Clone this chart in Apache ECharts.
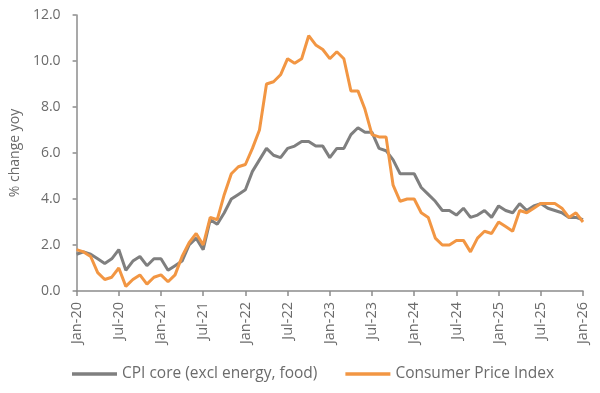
<!DOCTYPE html>
<html>
<head>
<meta charset="utf-8">
<script src="https://cdn.jsdelivr.net/npm/echarts@6/dist/echarts.min.js"></script>
<style>html,body{margin:0;padding:0;background:#fff}#c{width:600px;height:393px}</style>
</head>
<body>
<div id="c"></div>
<script>
const monthNames = ['Jan','Feb','Mar','Apr','May','Jun','Jul','Aug','Sep','Oct','Nov','Dec'];
const startYear = 20, monthCount = 73;
const categories = [];
for (let i = 0; i < monthCount; i++) {
  categories.push(monthNames[i % 12] + '-' + (startYear + Math.floor(i / 12)));
}
const coreName = 'CPI core (excl energy, food)';
const cpiName = 'Consumer Price Index';
const coreValues = [
  1.6,1.7,1.6,1.4,1.2,1.4,1.8,0.9,1.3,1.5,1.1,1.4,
  1.4,0.9,1.1,1.3,2.0,2.3,1.8,3.1,2.9,3.4,4.0,4.2,
  4.4,5.2,5.7,6.2,5.9,5.8,6.2,6.3,6.5,6.5,6.3,6.3,
  5.8,6.2,6.2,6.8,7.1,6.9,6.9,6.2,6.1,5.7,5.1,5.1,
  5.1,4.5,4.2,3.9,3.5,3.5,3.3,3.6,3.2,3.3,3.5,3.2,
  3.7,3.5,3.4,3.8,3.5,3.7,3.8,3.6,3.5,3.4,3.2,3.2,
  3.1
];
const cpiValues = [
  1.8,1.7,1.5,0.8,0.5,0.6,1.0,0.2,0.5,0.7,0.3,0.6,
  0.7,0.4,0.7,1.5,2.1,2.5,2.0,3.2,3.1,4.2,5.1,5.4,
  5.5,6.2,7.0,9.0,9.1,9.4,10.1,9.9,10.1,11.1,10.7,10.5,
  10.1,10.4,10.1,8.7,8.7,7.9,6.8,6.7,6.7,4.6,3.9,4.0,
  4.0,3.4,3.2,2.3,2.0,2.0,2.2,2.2,1.7,2.3,2.6,2.5,
  3.0,2.8,2.6,3.5,3.4,3.6,3.8,3.8,3.8,3.6,3.2,3.4,
  3.0
];
const yMin = 0, yMax = 12, yStep = 2;
const yAxisName = '% change yoy';

const textColor = '#6b6b6b';
const axisColor = '#8c8c8c';
const font = '"Open Sans", Lato, sans-serif';
const chart = echarts.init(document.getElementById('c'), null, {renderer: 'canvas'});
chart.setOption({
  animation: false,
  textStyle: {fontFamily: font},
  grid: {left: 72, right: 17, top: 15, bottom: 102, containLabel: false},
  legend: {
    bottom: 6, left: 67, itemGap: 28, itemWidth: 45, itemHeight: 3.5, icon: 'rect',
    textStyle: {color: textColor, fontSize: 15.5, fontFamily: font},
    data: [coreName, cpiName]
  },
  xAxis: {
    type: 'category', data: categories, boundaryGap: false,
    axisLine: {lineStyle: {color: axisColor, width: 1.5}},
    axisTick: {show: true, interval: 5, length: 5, lineStyle: {color: axisColor, width: 1.5}},
    axisLabel: {interval: 5, rotate: 90, color: textColor, fontSize: 14.5, margin: 11, fontFamily: font},
    splitLine: {show: false}
  },
  yAxis: {
    type: 'value', min: yMin, max: yMax, interval: yStep,
    name: yAxisName, nameLocation: 'middle', nameGap: 51, nameRotate: 90,
    nameTextStyle: {color: textColor, fontSize: 14, fontFamily: font},
    axisLine: {show: true, lineStyle: {color: axisColor, width: 1.5}},
    axisTick: {show: true, length: 4, lineStyle: {color: axisColor, width: 1.5}},
    axisLabel: {color: textColor, fontSize: 14, margin: 16, fontFamily: font, formatter: v => v.toFixed(1)},
    splitLine: {show: false}
  },
  series: [
    {name: coreName, type: 'line', data: coreValues, showSymbol: false, symbol: 'none',
     lineStyle: {color: '#7f7f7f', width: 3}, itemStyle: {color: '#7f7f7f'}},
    {name: cpiName, type: 'line', data: cpiValues, showSymbol: false, symbol: 'none',
     lineStyle: {color: '#f29643', width: 3}, itemStyle: {color: '#f29643'}}
  ]
});
</script>
</body>
</html>
